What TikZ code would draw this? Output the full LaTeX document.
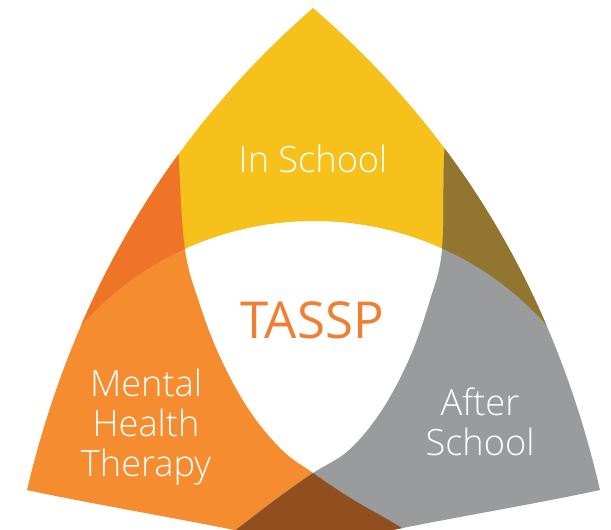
\documentclass[tikz,border=0pt]{standalone}
\usepackage{fontspec}
\setmainfont{Open Sans}
\newfontfamily\legere{Open Sans}[UprightFont={* Light}]
\definecolor{jaune}{HTML}{F5C11A}
\definecolor{orangeclair}{HTML}{F58C30}
\definecolor{gris}{HTML}{9A9B9D}
\definecolor{orangefonce}{HTML}{EE7428}
\definecolor{olive}{HTML}{92752F}
\definecolor{brun}{HTML}{914F20}
\definecolor{titreorange}{HTML}{F07F33}
%contour du triangle
\newcommand\bordtriangle{(313,8) .. controls (165,137) and (72,300) .. (27,490)
  .. controls (110,508) and (250,530) .. (313,548)
  .. controls (377,530) and (517,508) .. (600,490)
  .. controls (556,300) and (463,137) .. (313,8) -- cycle}
%zones
\newcommand\zonejaune{(-60,-60) rectangle (700,620) (314,533) circle[radius=312]}
\newcommand\zoneorange{plot[smooth,tension=0.6] coordinates {(176,80) (179,165) (185,250) (199,302) (220,357) (249,410) (282,450) (313,473) (352,499) (392,522) (440,552)} -- (440,620) -- (-60,620) -- (-60,80) -- cycle}
\newcommand\zonegrise{plot[smooth,tension=0.6] coordinates {(449,80) (444,160) (442,250) (430,300) (410,357) (382,410) (349,450) (313,473) (275,500) (237,529) (198,558)} -- (198,620) -- (680,620) -- (680,80) -- cycle}
\tikzset{
  etiquette/.style={text=white, align=center, anchor=base, font=\legere\fontsize{20.6}{22.7}\selectfont},
  titre/.style={text=titreorange, anchor=base, font=\fontsize{29}{32}\selectfont}
}
\begin{document}
\begin{tikzpicture}[x=0.02cm,y=-0.02cm]
\clip (0,0) rectangle (611,529);
\begin{scope}
\clip \bordtriangle;
%les trois zones
\fill[jaune,even odd rule] \zonejaune;
\fill[orangeclair] \zoneorange;
\fill[gris] \zonegrise;
%recouvrements
\begin{scope}
\clip \zoneorange;
\fill[orangefonce,even odd rule] \zonejaune;
\fill[brun] \zonegrise;
\end{scope}
\begin{scope}
\clip \zonegrise;
\fill[olive,even odd rule] \zonejaune;
\end{scope}
\end{scope}
%textes
\node[etiquette] (ecole) at (313,172) {In School};
\node[titre] (tassp) at (312,338) {TASSP};
\node[etiquette] (sante) at (146,476) {Mental\\Health\\Therapy};
\node[etiquette] (apres) at (480,455) {After\\School};
\end{tikzpicture}
\end{document}
